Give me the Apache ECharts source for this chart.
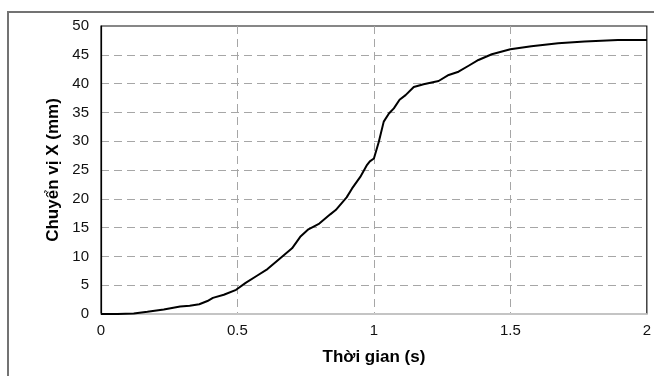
<!DOCTYPE html>
<html>
<head>
<meta charset="utf-8">
<script src="https://cdn.jsdelivr.net/npm/echarts@6/dist/echarts.min.js"></script>
<style>html,body{margin:0;padding:0;background:#fff;}#c{width:654px;height:376px;}</style>
</head>
<body>
<div id="c"></div>
<script>
const timeS = [0, 0.06, 0.12, 0.17, 0.23, 0.29, 0.325, 0.36, 0.39, 0.41, 0.45, 0.495, 0.53, 0.57, 0.61, 0.66, 0.70, 0.73, 0.76, 0.80, 0.84, 0.86, 0.90, 0.92, 0.95, 0.975, 0.985, 1.0, 1.018, 1.036, 1.055, 1.073, 1.094, 1.116, 1.146, 1.182, 1.237, 1.274, 1.31, 1.347, 1.383, 1.432, 1.5, 1.577, 1.675, 1.772, 1.894, 2.0];
const dispX = [0, 0, 0.1, 0.4, 0.8, 1.3, 1.45, 1.7, 2.25, 2.8, 3.35, 4.2, 5.4, 6.6, 7.8, 9.8, 11.4, 13.4, 14.7, 15.7, 17.3, 18.05, 20.25, 21.8, 23.8, 25.9, 26.5, 27, 29.9, 33.4, 34.8, 35.7, 37.2, 38, 39.4, 39.9, 40.45, 41.5, 42.07, 43.1, 44.1, 45.1, 45.95, 46.5, 47.0, 47.3, 47.57, 47.57];
const xName = 'Thời gian (s)';
const yName = 'Chuyển vị X (mm)';

const chart = echarts.init(document.getElementById('c'), null, {renderer: 'canvas'});
const font = 'Liberation Sans, Arial, sans-serif';
const gridDash = {color: '#a6a6a6', width: 1, type: [8, 5]};
chart.setOption({
  animation: false,
  textStyle: {fontFamily: font},
  graphic: [{
    type: 'rect', silent: true, z: 100,
    shape: {x: 8, y: 12, width: 1000, height: 1000},
    style: {fill: 'none', stroke: '#737373', lineWidth: 2}
  }],
  grid: {left: 101, right: 5, top: 26, bottom: 62, show: true, borderColor: '#111', borderWidth: 1.2, backgroundColor: 'transparent'},
  xAxis: {
    type: 'value', min: 0, max: 2, interval: 0.5,
    name: xName, nameLocation: 'middle', nameGap: 35,
    nameTextStyle: {fontFamily: font, fontSize: 17, fontWeight: 'bold', color: '#000'},
    axisLine: {show: true, onZero: false, lineStyle: {color: '#d9d9d9', width: 1.5}},
    axisTick: {show: false},
    axisLabel: {fontFamily: font, fontSize: 15, color: '#111', margin: 9},
    splitLine: {show: true, showMinLine: false, showMaxLine: false, lineStyle: gridDash}
  },
  yAxis: {
    type: 'value', min: 0, max: 50, interval: 5,
    name: yName, nameLocation: 'middle', nameGap: 30,
    nameTextStyle: {fontFamily: font, fontSize: 17, fontWeight: 'bold', color: '#000'},
    axisLine: {show: true, onZero: false, lineStyle: {color: '#000', width: 1.2}},
    axisTick: {show: false},
    axisLabel: {fontFamily: font, fontSize: 15, color: '#111', margin: 12},
    splitLine: {show: true, showMinLine: false, showMaxLine: false, lineStyle: gridDash}
  },
  series: [{
    type: 'line',
    data: timeS.map((t, i) => [t, dispX[i]]),
    showSymbol: false,
    smooth: false,
    lineStyle: {color: '#000', width: 2},
    z: 5
  }]
});
</script>
</body>
</html>
